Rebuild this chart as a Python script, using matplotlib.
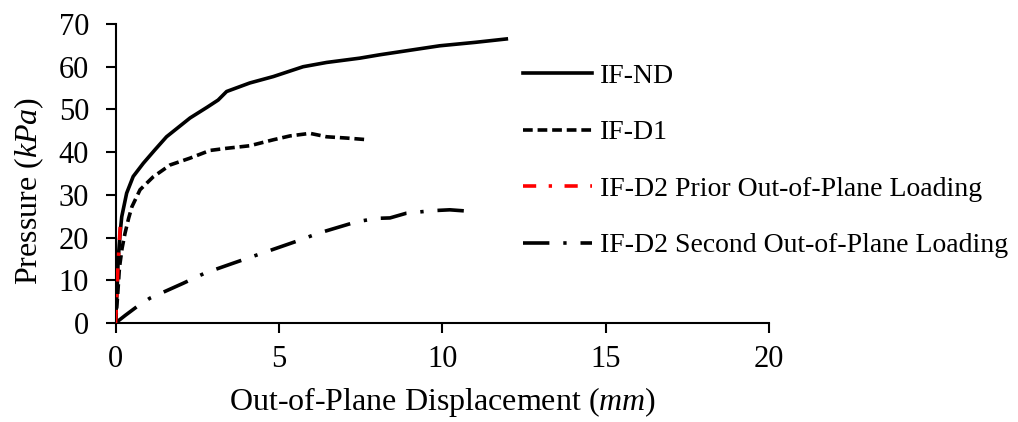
import numpy as np
import matplotlib
matplotlib.use('Agg')
import matplotlib.pyplot as plt

plt.rcParams['font.family'] = ['Liberation Serif', 'DejaVu Serif']
plt.rcParams['mathtext.fontset'] = 'custom'
plt.rcParams['mathtext.rm'] = 'Liberation Serif'
plt.rcParams['mathtext.it'] = 'Liberation Serif:italic'
plt.rcParams['lines.scale_dashes'] = False

# IF-ND
nd_x = [0, 0.05, 0.08, 0.14, 0.19, 0.34, 0.54, 0.85, 1.2, 1.56, 2.28, 2.8, 3.14, 3.4, 4.11, 4.83, 5.74, 6.46, 7.47, 8.09, 8.7, 9.92, 11.0, 11.96]
nd_y = [0, 8, 14.8, 21, 24.9, 30.4, 34.3, 37.4, 40.5, 43.6, 48, 50.5, 52.2, 54.2, 56.2, 57.7, 60, 61, 62, 62.8, 63.5, 64.9, 65.7, 66.5]

# IF-D1
d1_x = [0, 0.06, 0.12, 0.2, 0.29, 0.4, 0.5, 0.75, 1.15, 1.67, 2.28, 2.89, 3.4, 4.11, 4.83, 5.34, 5.95, 6.46, 7.07, 7.73]
d1_y = [0, 6, 13, 17.5, 21, 24.5, 27.2, 31.2, 34.2, 37, 38.6, 40.4, 40.9, 41.5, 42.9, 43.8, 44.4, 43.6, 43.3, 42.9]

# IF-D2 prior out-of-plane loading
p_x = [0, 0.03, 0.06, 0.09, 0.12, 0.15]
p_y = [0, 5, 11, 15.5, 19.5, 23.4]

# IF-D2 second out-of-plane loading
s_x = [0, 0.3, 0.65, 1.05, 2.07, 2.74, 3.6, 4.47, 5.64, 6.2, 7.38, 7.99, 8.4, 8.9, 9.7, 10.23, 10.94]
s_y = [0, 1.8, 3.8, 5.8, 9.3, 11.7, 14, 16.3, 19.4, 21, 23.7, 24.5, 24.6, 25.7, 26.3, 26.5, 26.1]

labels = ['IF-ND', 'IF-D1', 'IF-D2 Prior Out-of-Plane Loading', 'IF-D2 Second Out-of-Plane Loading']

fig = plt.figure(figsize=(10.18, 4.22), dpi=100)
ax = fig.add_axes([0.1135, 0.2346, 0.6419, 0.7085])

lw = 2.6
ax.plot(nd_x, nd_y, color='black', lw=lw, label=labels[0])
ax.plot(d1_x, d1_y, color='black', lw=lw, dashes=(7, 3.5), label=labels[1])
ax.plot(p_x, p_y, color='red', lw=lw, dashes=(9.5, 9, 2.4, 9), label=labels[2], zorder=4)
ax.plot(s_x, s_y, color='black', lw=lw, dashes=(19, 10, 2.4, 10), label=labels[3])

ax.set_xlim(0, 20)
ax.set_ylim(0, 70)
ax.set_xticks(np.arange(0, 21, 5))
ax.set_yticks(np.arange(0, 71, 10))
for s in ['top', 'right']:
    ax.spines[s].set_visible(False)
for s in ['left', 'bottom']:
    ax.spines[s].set_linewidth(1.5)
ax.tick_params(direction='out', length=7, width=1.5, labelsize=22)
ax.tick_params(axis='y', pad=12)
ax.tick_params(axis='x', pad=9)

ax.set_xlabel('Out-of-Plane Displacement ($\\it{mm}$)', fontsize=23, labelpad=8)
ax.set_ylabel('Pressure ($\\it{kPa}$)', fontsize=23)
ax.yaxis.set_label_coords(-0.106, 0.44)

leg = ax.legend(loc='upper left', bbox_to_anchor=(523 / 1018, 0.850), bbox_transform=fig.transFigure,
                frameon=False, fontsize=20, handlelength=2.48, handletextpad=0.29,
                labelspacing=1.12, borderpad=0, borderaxespad=0)

fig.savefig('out.png', dpi=100)
